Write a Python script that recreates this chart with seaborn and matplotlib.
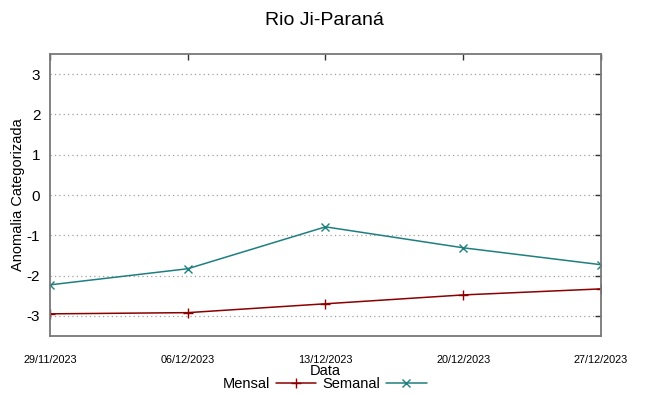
import numpy as np
import pandas as pd
import matplotlib
matplotlib.use("Agg")
import matplotlib.pyplot as plt
import seaborn as sns

sns.set_style("white")
plt.rcParams['font.family'] = ['Liberation Sans', 'DejaVu Sans']
plt.rcParams['text.color'] = 'black'
plt.rcParams['axes.labelcolor'] = 'black'
plt.rcParams['xtick.color'] = 'black'
plt.rcParams['ytick.color'] = 'black'

# dados
datas = ["2023-11-29", "2023-12-06", "2023-12-13", "2023-12-20", "2023-12-27"]
mensal = [-2.95, -2.92, -2.70, -2.48, -2.33]
semanal = [-2.23, -1.83, -0.79, -1.31, -1.73]
rotulos_x = ["29/11/2023", "06/12/2023", "13/12/2023", "20/12/2023", "27/12/2023"]
yticks = [-3, -2, -1, 0, 1, 2, 3]

df = pd.DataFrame({"Data": pd.to_datetime(datas), "Mensal": mensal, "Semanal": semanal})

fig = plt.figure(figsize=(6.49, 3.96), dpi=100)
ax = fig.add_axes([0.077, 0.1515, 0.849, 0.712])

sns.lineplot(data=df, x="Data", y="Mensal", ax=ax, color="#8b0000", marker="+",
             markersize=7.5, markeredgewidth=1, markeredgecolor="#8b0000", lw=1.1, label="Mensal")
sns.lineplot(data=df, x="Data", y="Semanal", ax=ax, color="#1f7f7f", marker="x",
             markersize=5.5, markeredgewidth=1, markeredgecolor="#1f7f7f", lw=1.1, label="Semanal")

ax.set_xlim(df["Data"].iloc[0], df["Data"].iloc[-1])
ax.set_ylim(-3.5, 3.5)
ax.set_yticks(yticks)
ax.set_yticklabels([str(v) for v in yticks], fontsize=11)
ax.set_xticks(df["Data"])
ax.set_xticklabels(rotulos_x, fontsize=7.8)
ax.tick_params(direction="in", top=True, right=True, length=4, width=1, color="#333333")
ax.tick_params(axis="x", pad=14)
ax.tick_params(axis="y", pad=7)
ax.yaxis.grid(True, linestyle=(0, (1, 2.5)), color="#a0a0a0", lw=0.9)
for s in ax.spines.values():
    s.set_color("#777777")
    s.set_linewidth(1.3)

ax.set_xlabel("Data", fontsize=10.5, labelpad=-1)
ax.set_ylabel("Anomalia Categorizada", fontsize=10.5, labelpad=1)
fig.suptitle("Rio Ji-Paraná", fontsize=14, y=0.97)

ax.get_legend().remove()
h, l = ax.get_legend_handles_labels()
fig.legend(h, l, loc="lower center", bbox_to_anchor=(0.5, -0.02), ncol=2, frameon=False,
           markerfirst=False, handlelength=2.8, columnspacing=0.4, handletextpad=0.4,
           prop={"size": 10.5})

fig.savefig("out.png", dpi=100)
